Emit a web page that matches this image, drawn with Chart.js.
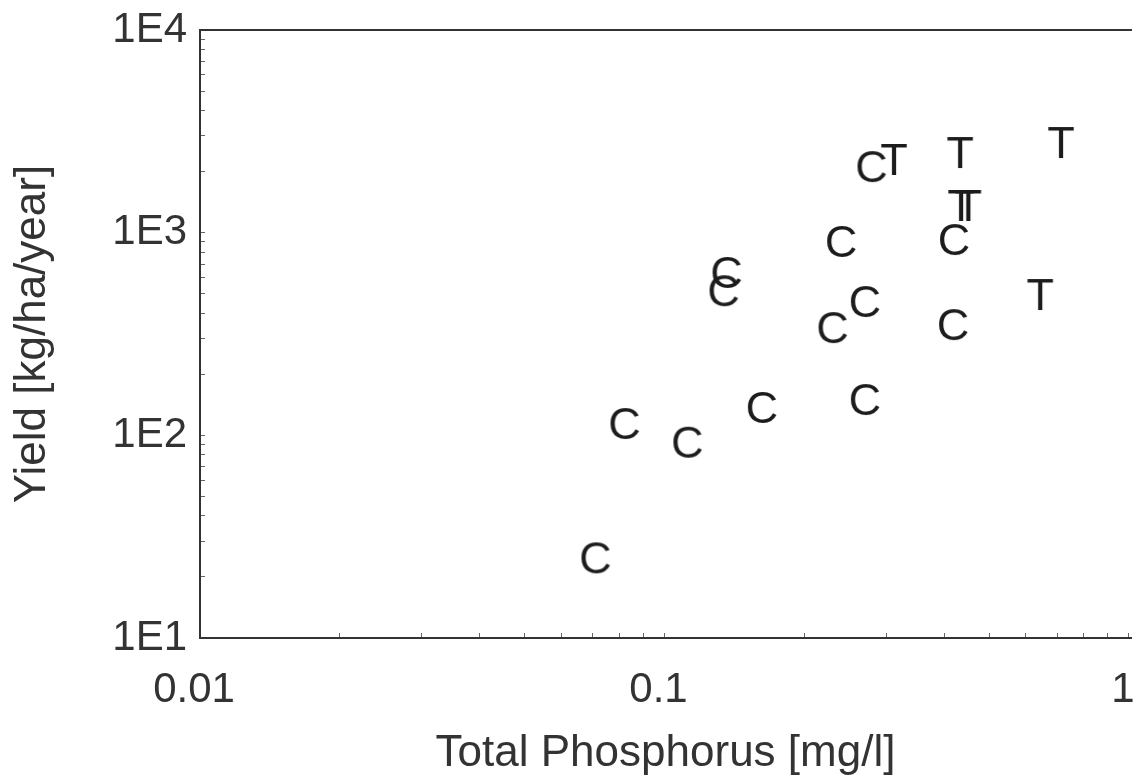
<!DOCTYPE html>
<html>
<head>
<meta charset="utf-8">
<script src="https://cdn.jsdelivr.net/npm/chart.js@4.4.1/dist/chart.umd.min.js"></script>
<style>
     body { margin: 0; background: #fff; }
     #wrap { width: 1137px; height: 782px; position: relative; }
</style>
</head>
<body>
<div id="wrap"><canvas id="yieldChart"></canvas></div>
<script>
let cX = [0.071, 0.082, 0.112, 0.162, 0.27, 0.136, 0.134, 0.24, 0.27, 0.23, 0.279, 0.42, 0.418]; //phosphorus, C sites
let cY = [25, 115, 93, 138, 151, 640, 520, 910, 460, 342, 2130, 930, 354]; //yield, C sites
let tX = [0.312, 0.433, 0.435, 0.451, 0.714, 0.644]; //phosphorus, T sites
let tY = [2310, 2500, 1370, 1370, 2800, 498]; //yield, T sites
let xLabels = ["0.01", "0.1", "1"];
let yLabels = ["1E1", "1E2", "1E3", "1E4"];
let xTitle = "Total Phosphorus [mg/l]";
let yTitle = "Yield [kg/ha/year]";

const FONT = "'Liberation Sans', Arial, sans-serif";

//letter used as point marker
function letter(ch) {
     let cv = document.createElement("canvas");
     cv.width = 50;
     cv.height = 50;
     let ctx = cv.getContext("2d");
     let fs = 45;
     ctx.font = fs + "px " + FONT;
     ctx.fillStyle = "#1c1c1c";
     ctx.textAlign = "center";
     ctx.textBaseline = "alphabetic";
     ctx.fillText(ch, 25, 25 + (fs * 0.716) / 2);
     return cv;
}

function pts(xs, ys) {
     let out = [];
     for (let i = 0; i < xs.length; i++) out.push({ x: xs[i], y: ys[i] });
     return out;
}

//1..9 ticks per decade, labels only on the powers of ten
function logTicks(labels) {
     let t = [];
     for (let i = 0; i < labels.length; i++) {
          let v = Number(labels[i]);
          t.push(v);
          if (i < labels.length - 1) {
               for (let k = 2; k < 10; k++) t.push(v * k);
          }
     }
     return t;
}
let xTicks = logTicks(xLabels);
let yTicks = logTicks(yLabels);

new Chart("yieldChart", {
     type: "scatter",
     data: {
          datasets: [
               { data: pts(cX, cY), pointStyle: letter("C"), pointRadius: 5 },
               { data: pts(tX, tY), pointStyle: letter("T"), pointRadius: 5 },
          ],
     },
     options: {
          responsive: true,
          maintainAspectRatio: false,
          animation: false,
          layout: { padding: { top: 30, left: 0, right: 0, bottom: 0 } },
          plugins: { legend: { display: false }, tooltip: { enabled: false } },
          scales: {
               x: {
                    type: "logarithmic",
                    position: "bottom",
                    min: 0.01,
                    max: 1.01,
                    afterBuildTicks: (s) => {
                         s.ticks = xTicks.map((v) => ({ value: v }));
                    },
                    afterFit: (s) => {
                         s.height = 144;
                         s.paddingLeft = 0;
                         s.paddingRight = 0;
                    },
                    grid: { drawOnChartArea: false, tickLength: -5, color: "#666", lineWidth: 1 },
                    border: { color: "#333", width: 2 },
                    ticks: {
                         autoSkip: false,
                         maxRotation: 0,
                         padding: 32,
                         labelOffset: -6,
                         color: "#333",
                         font: { family: FONT, size: 42 },
                         callback: (v) => {
                              let i = xLabels.indexOf(String(v));
                              return i >= 0 ? xLabels[i] : "";
                         },
                    },
                    title: {
                         display: true,
                         text: xTitle,
                         color: "#333",
                         font: { family: FONT, size: 44 },
                         padding: { top: 0, bottom: 2 },
                    },
               },
               xTop: {
                    type: "logarithmic",
                    position: "top",
                    min: 0.01,
                    max: 1.01,
                    afterFit: (s) => {
                         s.height = 0;
                         s.paddingLeft = 0;
                         s.paddingRight = 0;
                    },
                    grid: { display: false },
                    border: { display: true, color: "#333", width: 2 },
                    ticks: { display: false },
               },
               y: {
                    type: "logarithmic",
                    min: 10,
                    max: 10000,
                    afterBuildTicks: (s) => {
                         s.ticks = yTicks.map((v) => ({ value: v }));
                    },
                    afterFit: (s) => {
                         s.width = 200;
                         s.paddingTop = 0;
                         s.paddingBottom = 0;
                    },
                    grid: { drawOnChartArea: false, tickLength: -5, color: "#666", lineWidth: 1 },
                    border: { color: "#333", width: 2 },
                    ticks: {
                         autoSkip: false,
                         padding: 18,
                         color: "#333",
                         font: { family: FONT, size: 42 },
                         callback: (v) => {
                              let p = Math.round(Math.log10(v));
                              let lab = "1E" + p;
                              return Math.abs(v - Math.pow(10, p)) < 1e-9 && yLabels.includes(lab) ? lab : "";
                         },
                    },
                    title: {
                         display: true,
                         text: yTitle,
                         color: "#333",
                         font: { family: FONT, size: 44 },
                         padding: { top: 6, bottom: 0 },
                    },
               },
          },
     },
});
</script>
</body>
</html>
